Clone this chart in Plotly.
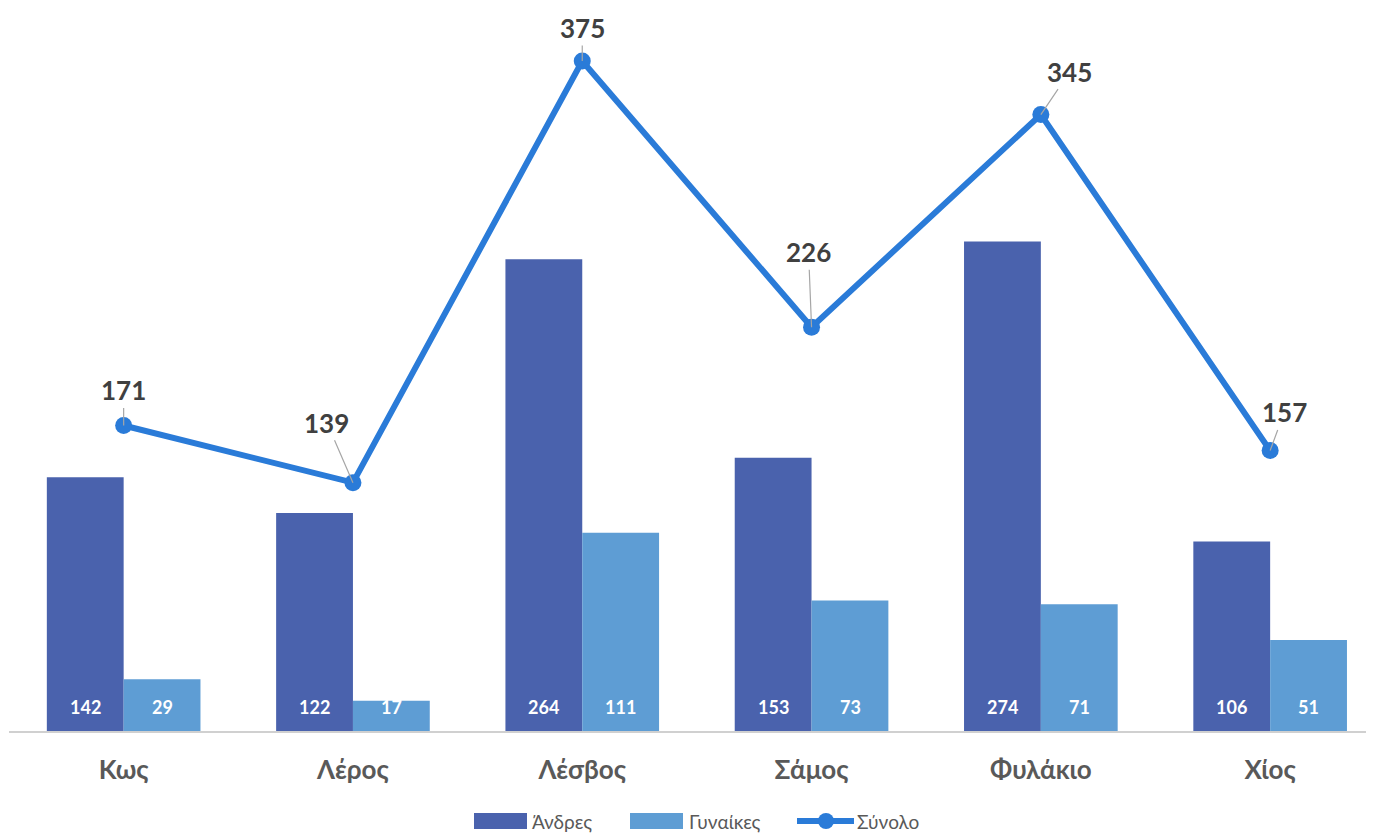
import plotly.graph_objects as go

categories = ["Κως", "Λέρος", "Λέσβος", "Σάμος", "Φυλάκιο", "Χίος"]
men = [142, 122, 264, 153, 274, 106]
women = [29, 17, 111, 73, 71, 51]
total = [171, 139, 375, 226, 345, 157]
series_names = ["Άνδρες", "Γυναίκες", "Σύνολο"]

# label offsets (px) for total labels: (ax, ay)
total_offsets = [(0, -35), (-26, -60), (0, -33), (-3, -75), (29, -43), (14, -38)]

FONT = "Lato"
GRAY = "#404040"
C_MEN = "#4a62ad"
C_WOMEN = "#5e9dd4"
C_LINE = "#2a7bd8"

W, H = 1366, 827
ML, MB = 1, 104
PW = W - ML
PH = H - MB


def pxx(x):  # page x -> paper
    return (x - 9) / PW


def pxy(y):  # page y -> paper
    return (731 - y) / PH


fig = go.Figure()
fig.add_trace(go.Bar(name=series_names[0], x=categories, y=men,
                     marker=dict(color=C_MEN, line=dict(width=0))))
fig.add_trace(go.Bar(name=series_names[1], x=categories, y=women,
                     marker=dict(color=C_WOMEN, line=dict(width=0))))
fig.add_trace(go.Scatter(name=series_names[2], x=categories, y=total, mode="lines+markers",
                         line=dict(color=C_LINE, width=6),
                         marker=dict(color=C_LINE, size=17)))

annotations = []
bar_px = 77
for i, c in enumerate(categories):
    annotations.append(dict(x=c, y=0, text=f"<b>{men[i]}</b>", showarrow=False,
                            xshift=-bar_px / 2, yshift=24,
                            font=dict(family=FONT, size=18, color="white")))
    annotations.append(dict(x=c, y=0, text=f"<b>{women[i]}</b>", showarrow=False,
                            xshift=bar_px / 2, yshift=24,
                            font=dict(family=FONT, size=18, color="white")))
    ax, ay = total_offsets[i]
    annotations.append(dict(x=c, y=total[i], text=f"<b>{total[i]}</b>", showarrow=True,
                            arrowhead=0, arrowwidth=1.2, arrowcolor="#a6a6a6",
                            ax=ax, ay=ay, standoff=0,
                            font=dict(family=FONT, size=26, color=GRAY)))

# custom legend (wide swatches like the reference)
shapes = []
ly = 821
for (x0, x1, col) in [(474, 527, C_MEN), (630, 683, C_WOMEN)]:
    shapes.append(dict(type="rect", xref="paper", yref="paper",
                       x0=pxx(x0), x1=pxx(x1), y0=pxy(ly + 8), y1=pxy(ly - 8),
                       fillcolor=col, line=dict(width=0)))
shapes.append(dict(type="line", xref="paper", yref="paper",
                   x0=pxx(797), x1=pxx(854), y0=pxy(ly), y1=pxy(ly),
                   line=dict(color=C_LINE, width=6)))
shapes.append(dict(type="circle", xref="paper", yref="paper",
                   x0=pxx(826 - 8), x1=pxx(826 + 8), y0=pxy(ly + 8), y1=pxy(ly - 8),
                   fillcolor=C_LINE, line=dict(width=0)))
for name, tx in zip(series_names, [530, 687, 855]):
    annotations.append(dict(xref="paper", yref="paper", x=pxx(tx), y=pxy(ly),
                            xanchor="left", yanchor="middle", showarrow=False,
                            text=name, font=dict(family=FONT, size=19, color="#595959")))

fig.update_layout(
    width=W, height=H,
    margin=dict(l=ML, r=0, t=0, b=MB, pad=0),
    paper_bgcolor="white", plot_bgcolor="white",
    barmode="group", bargap=0.33, bargroupgap=0,
    showlegend=False,
    xaxis=dict(type="category", range=[-0.5, -0.5 + PW / 229.3], showgrid=False,
               showline=True, linecolor="#d0d0d0", linewidth=2,
               ticks="outside", ticklen=15, tickcolor="rgba(0,0,0,0)",
               tickfont=dict(family=FONT, size=26, color="#595959"),
               tickprefix="<b>", ticksuffix="</b>", fixedrange=True),
    yaxis=dict(range=[0, PH / 1.7867], showgrid=False, zeroline=False, showticklabels=False,
               showline=False, fixedrange=True),
    annotations=annotations,
    shapes=shapes,
)

fig.write_html("out.html")
